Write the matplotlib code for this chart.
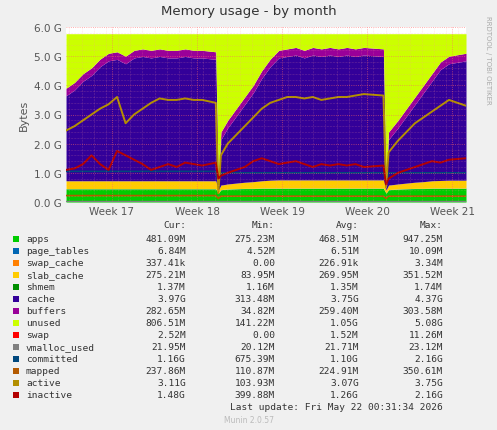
import matplotlib
matplotlib.use("Agg")
import matplotlib.pyplot as plt
import numpy as np

weeks = [16.46,16.56,16.66,16.76,16.86,16.96,17.06,17.16,17.26,17.36,17.46,17.56,17.66,17.76,17.86,17.96,18.06,18.22,
         18.25,
         18.28,18.36,18.46,18.56,18.66,18.76,18.86,18.96,19.06,19.16,19.26,19.36,19.46,19.56,19.66,19.76,19.86,19.96,20.19,
         20.22,
         20.25,20.36,20.46,20.56,20.66,20.76,20.86,20.96,21.16]
buffers_top = [3.9,4.1,4.4,4.6,4.9,5.1,5.15,5.0,5.2,5.25,5.2,5.25,5.2,5.2,5.25,5.2,5.2,5.15,
               0.7,
               2.4,2.8,3.2,3.6,4.0,4.5,4.9,5.2,5.25,5.3,5.2,5.3,5.25,5.3,5.25,5.3,5.25,5.3,5.25,
               0.7,
               2.4,2.8,3.2,3.6,4.0,4.4,4.8,5.0,5.1]
active = [2.45,2.6,2.8,3.0,3.2,3.35,3.6,2.7,3.0,3.2,3.4,3.55,3.5,3.5,3.55,3.5,3.5,3.4,
          0.3,
          1.6,2.0,2.3,2.6,2.9,3.2,3.4,3.5,3.6,3.6,3.55,3.6,3.5,3.55,3.6,3.6,3.65,3.7,3.65,
          0.5,
          1.7,2.1,2.4,2.7,2.9,3.1,3.3,3.5,3.3]
inactive = [1.1,1.15,1.3,1.6,1.3,1.1,1.75,1.6,1.45,1.3,1.1,1.2,1.3,1.2,1.35,1.3,1.25,1.35,
            0.8,
            0.9,1.0,1.1,1.2,1.4,1.5,1.4,1.3,1.35,1.4,1.3,1.2,1.3,1.25,1.3,1.25,1.3,1.2,1.25,
            0.6,
            0.8,1.0,1.1,1.2,1.3,1.4,1.35,1.45,1.5]
apps = [0.45]*18 + [0.3] + [0.42,0.44,0.45,0.46,0.46,0.47,0.47,0.47,0.47,0.47,0.47,0.47,0.47,0.47,0.47,0.47,0.47,0.47,0.47] + [0.3] + [0.42,0.44,0.45,0.46,0.46,0.47,0.47,0.47,0.47]
slab = [0.27]*18 + [0.1] + [0.15,0.17,0.19,0.21,0.23,0.25,0.27,0.28,0.28,0.28,0.28,0.28,0.28,0.28,0.28,0.28,0.28,0.28,0.28] + [0.1] + [0.15,0.17,0.19,0.21,0.23,0.25,0.26,0.27,0.27]
committed = [1.05]*18 + [0.7] + [1.0]*19 + [0.7] + [1.0]*9
mapped = [0.22]*18 + [0.12] + [0.2]*19 + [0.12] + [0.2]*9
page_tables = 0.0068; swap_cache = 0.0003; shmem = 0.0014; total = 5.77
buffers_thick = 0.26

apps = np.array(apps); slab = np.array(slab); bt = np.array(buffers_top)
base1 = apps + page_tables + swap_cache
base2 = base1 + slab + shmem
cache_top = np.maximum(bt - buffers_thick, base2)

fig = plt.figure(figsize=(4.97, 4.31), dpi=100, facecolor="#F0F0F0")
ax = fig.add_axes([66/497, 1-203/431, 400/497, 175/431])
ax.set_facecolor("white")
x = np.array(weeks)
ax.fill_between(x, 0, apps, color="#00CC00", lw=0)
ax.fill_between(x, apps, apps+page_tables, color="#0066B3", lw=0)
ax.fill_between(x, base1-swap_cache, base1, color="#FF8000", lw=0)
ax.fill_between(x, base1, base1+slab, color="#FFCC00", lw=0)
ax.fill_between(x, base1+slab, base2, color="#008F00", lw=0)
ax.fill_between(x, base2, cache_top, color="#330099", lw=0)
ax.fill_between(x, cache_top, bt, color="#990099", lw=0)
ax.fill_between(x, bt, total, color="#CCFF00", lw=0)
ax.plot(x, [0.021]*48, color="#808080", lw=1)
ax.plot(x, committed, color="#00487D", lw=1.2)
ax.plot(x, mapped, color="#B35A00", lw=1.2)
ax.plot(x, active, color="#B38F00", lw=1.4)
ax.plot(x, inactive, color="#B30000", lw=1.4)

ax.set_xlim(16.46, 21.16); ax.set_ylim(0, 6.0)
ax.set_yticks(np.arange(0, 6.1, 1.0))
ax.set_yticklabels([f"{v:.1f} G" for v in np.arange(0, 6.1, 1.0)], fontsize=7.5, color="#555555")
ax.set_xticks([17,18,19,20,21])
ax.set_xticklabels(["Week 17","Week 18","Week 19","Week 20","Week 21"], fontsize=7.5, color="#555555")
ax.set_yticks(np.arange(0, 6.0, 0.2), minor=True)
ax.set_xticks(np.arange(16.5, 21.2, 0.142857), minor=True)
ax.grid(True, which="minor", color="#FF9999", ls=":", lw=0.4, alpha=0.5)
ax.grid(True, which="major", color="#FF6666", ls=":", lw=0.6, alpha=0.7)
ax.set_axisbelow(False)
for s in ax.spines.values(): s.set_visible(False)
ax.tick_params(which="both", length=0, pad=3)
ax.set_ylabel("Bytes", fontsize=8, color="#555555")
fig.text(0.5, 1-12/431, "Memory usage - by month", ha="center", va="center", fontsize=9.5, color="#333333")
fig.text(1-9/497, 1-60/431, "RRDTOOL / TOBI OETIKER", rotation=270, ha="center", va="center", fontsize=5, color="#AAAAAA")

rows = [("apps","#00CC00","481.09M","275.23M","468.51M","947.25M"),
        ("page_tables","#0066B3","6.84M","4.52M","6.51M","10.09M"),
        ("swap_cache","#FF8000","337.41k","0.00","226.91k","3.34M"),
        ("slab_cache","#FFCC00","275.21M","83.95M","269.95M","351.52M"),
        ("shmem","#008F00","1.37M","1.16M","1.35M","1.74M"),
        ("cache","#330099","3.97G","313.48M","3.75G","4.37G"),
        ("buffers","#990099","282.65M","34.82M","259.40M","303.58M"),
        ("unused","#CCFF00","806.51M","141.22M","1.05G","5.08G"),
        ("swap","#FF0000","2.52M","0.00","1.52M","11.26M"),
        ("vmalloc_used","#808080","21.95M","20.12M","21.71M","23.12M"),
        ("committed","#00487D","1.16G","675.39M","1.10G","2.16G"),
        ("mapped","#B35A00","237.86M","110.87M","224.91M","350.61M"),
        ("active","#B38F00","3.11G","103.93M","3.07G","3.75G"),
        ("inactive","#B30000","1.48G","399.88M","1.26G","2.16G")]
fs = 6.8; tc = "#333333"
colx = [186, 275, 359, 443]
for j, h in enumerate(["Cur:","Min:","Avg:","Max:"]):
    fig.text(colx[j]/497, 1-226/431, h, ha="right", va="center", fontsize=fs, color=tc, family="DejaVu Sans Mono")
for i, r in enumerate(rows):
    yy = 1-(240+12.0*i)/431
    fig.patches.append(plt.Rectangle((13/497, yy-3/431), 6/497, 6/431, transform=fig.transFigure, facecolor=r[1], edgecolor="none"))
    fig.text(26/497, yy, r[0], ha="left", va="center", fontsize=fs, color=tc, family="DejaVu Sans Mono")
    for j in range(4):
        fig.text(colx[j]/497, yy, r[2+j], ha="right", va="center", fontsize=fs, color=tc, family="DejaVu Sans Mono")
fig.text(443/497, 1-408/431, "Last update: Fri May 22 00:31:34 2026", ha="right", va="center", fontsize=fs, color=tc, family="DejaVu Sans Mono")
fig.text(0.5, 1-421/431, "Munin 2.0.57", ha="center", va="center", fontsize=5.5, color="#BBBBBB")
fig.savefig("out.png", dpi=100, facecolor=fig.get_facecolor())
